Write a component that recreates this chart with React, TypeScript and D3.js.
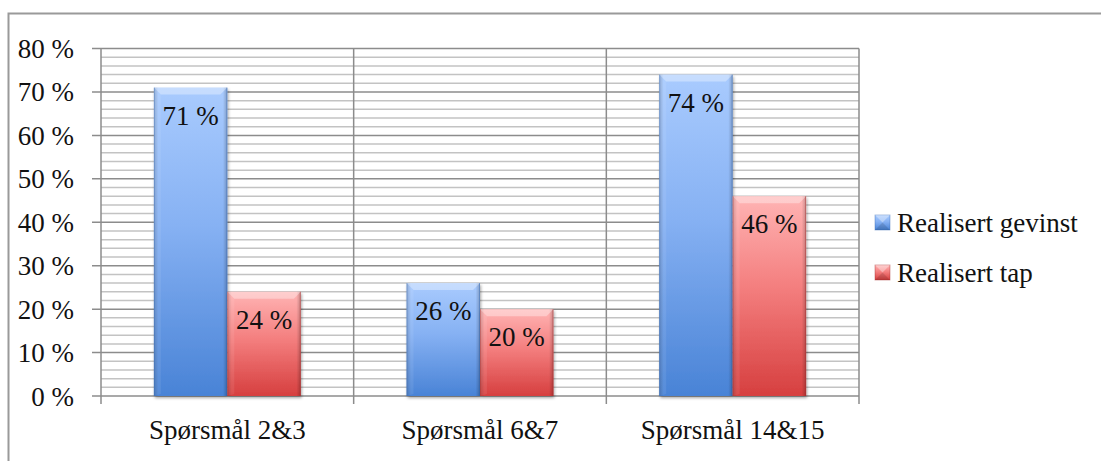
import React from "react";
import * as d3 from "d3";

// Share of respondents per question pair
const categories = ["Spørsmål 2&3", "Spørsmål 6&7", "Spørsmål 14&15"];
const seriesNames = ["Realisert gevinst", "Realisert tap"];
const gevinst = [71, 26, 74];
const tap = [24, 20, 46];
const yTicks = [0, 10, 20, 30, 40, 50, 60, 70, 80];

const W = 1101;
const H = 461;
const FONT = "'Liberation Serif', 'Times New Roman', serif";

const plot = { left: 101, right: 859, top: 48.5, bottom: 396 };

const palette = [
  { id: "gBlue", top: "#a9cbfe", mid: "#86b1f3", bottom: "#4983d6", edge: "#3a6cb5" },
  { id: "gRed", top: "#ffb4b4", mid: "#f47f7f", bottom: "#d63f3f", edge: "#a83030" },
];

export default function App() {
  const x0 = d3.scaleBand<string>().domain(categories).range([plot.left, plot.right]).paddingInner(0).paddingOuter(0);
  const x1 = d3.scaleBand<string>().domain(seriesNames).range([0, x0.bandwidth()]).paddingInner(0).paddingOuter(0.72);
  const y = d3.scaleLinear().domain([0, 80]).range([plot.bottom, plot.top]);

  const minor = d3.range(0, 81, 2).filter((v) => v % 10 !== 0);
  const series = [gevinst, tap];
  const bw = x1.bandwidth();
  const bevel = 7;

  return (
    <div style={{ position: "absolute", left: 0, top: 0, width: W, height: H, background: "#fff" }}>
      <svg width={W} height={H} style={{ display: "block" }}>
        <defs>
          {palette.map((p) => (
            <linearGradient key={p.id} id={p.id} x1="0" y1="0" x2="0" y2="1">
              <stop offset="0%" stopColor={p.top} />
              <stop offset="45%" stopColor={p.mid} />
              <stop offset="100%" stopColor={p.bottom} />
            </linearGradient>
          ))}
          <linearGradient id="sideShade" x1="0" y1="0" x2="1" y2="0">
            <stop offset="0%" stopColor="#000" stopOpacity={0.18} />
            <stop offset="6%" stopColor="#000" stopOpacity={0.0} />
            <stop offset="94%" stopColor="#000" stopOpacity={0.0} />
            <stop offset="100%" stopColor="#000" stopOpacity={0.22} />
          </linearGradient>
          <filter id="barShadow" x="-20%" y="-5%" width="140%" height="115%">
            <feDropShadow dx="1" dy="2" stdDeviation="1.6" floodColor="#000" floodOpacity="0.35" />
          </filter>
        </defs>

        {/* chart frame */}
        <rect x={8.5} y={13.5} width={W + 20} height={H + 20} fill="none" stroke="#9a9a9a" strokeWidth={2} />

        {/* minor gridlines */}
        {minor.map((v) => (
          <line key={"m" + v} x1={plot.left} x2={plot.right} y1={y(v)} y2={y(v)} stroke="#c3c3c3" strokeWidth={1.5} />
        ))}
        {/* major gridlines and y ticks */}
        {yTicks.map((v) => (
          <g key={"M" + v}>
            <line x1={plot.left - 9} x2={plot.right} y1={y(v)} y2={y(v)} stroke="#8c8c8c" strokeWidth={1.5} />
            <text
              x={74}
              y={y(v) + 9.5}
              textAnchor="end"
              fontFamily={FONT}
              fontSize={27}
              fill="#111"
            >
              {v} %
            </text>
          </g>
        ))}
        {/* vertical separators between categories */}
        {[...categories.map((c) => x0(c)!), plot.right].map((xv, i) => (
          <line key={"v" + i} x1={xv} x2={xv} y1={plot.top} y2={plot.bottom + 8} stroke="#8c8c8c" strokeWidth={1.5} />
        ))}

        {/* bars */}
        {categories.map((c, ci) => (
          <g key={c} transform={`translate(${x0(c)},0)`}>
            {seriesNames.map((s, si) => {
              const v = series[si][ci];
              const bx = x1(s)!;
              const by = y(v);
              const bh = plot.bottom - by;
              const p = palette[si];
              return (
                <g key={s}>
                  <rect x={bx} y={by} width={bw} height={bh} fill={`url(#${p.id})`} filter="url(#barShadow)" />
                  <rect x={bx} y={by} width={bw} height={bh} fill="url(#sideShade)" />
                  <polygon
                    points={`${bx},${by} ${bx + bw},${by} ${bx + bw - bevel},${by + bevel} ${bx + bevel},${by + bevel}`}
                    fill="#fff"
                    fillOpacity={0.35}
                  />
                  <polygon
                    points={`${bx},${by} ${bx + bevel},${by + bevel} ${bx + bevel},${by + bh - 2} ${bx},${by + bh}`}
                    fill="#fff"
                    fillOpacity={0.08}
                  />
                  <line x1={bx + 0.5} x2={bx + 0.5} y1={by} y2={plot.bottom} stroke={p.edge} strokeOpacity={0.35} />
                  <line x1={bx + bw - 0.5} x2={bx + bw - 0.5} y1={by} y2={plot.bottom} stroke={p.edge} strokeOpacity={0.45} />
                  <text
                    x={bx + bw / 2}
                    y={by + 37}
                    textAnchor="middle"
                    fontFamily={FONT}
                    fontSize={27}
                    fill="#111"
                  >
                    {v} %
                  </text>
                </g>
              );
            })}
            <text
              x={x0.bandwidth() / 2}
              y={439}
              textAnchor="middle"
              fontFamily={FONT}
              fontSize={27}
              fill="#111"
            >
              {c}
            </text>
          </g>
        ))}

        {/* legend */}
        {seriesNames.map((s, i) => {
          const ly = 215 + i * 50;
          const p = palette[i];
          return (
            <g key={s}>
              <rect x={875} y={ly} width={15} height={15} fill={`url(#${p.id})`} stroke={p.edge} strokeOpacity={0.5} strokeWidth={0.8} />
              <polygon points={`${875},${ly} ${890},${ly} ${882.5},${ly + 7.5}`} fill="#fff" fillOpacity={0.35} />
              <polygon points={`${875},${ly + 15} ${890},${ly + 15} ${882.5},${ly + 7.5}`} fill="#000" fillOpacity={0.12} />
              <text x={897} y={ly + 17} fontFamily={FONT} fontSize={27} fill="#111">
                {s}
              </text>
            </g>
          );
        })}
      </svg>
    </div>
  );
}
